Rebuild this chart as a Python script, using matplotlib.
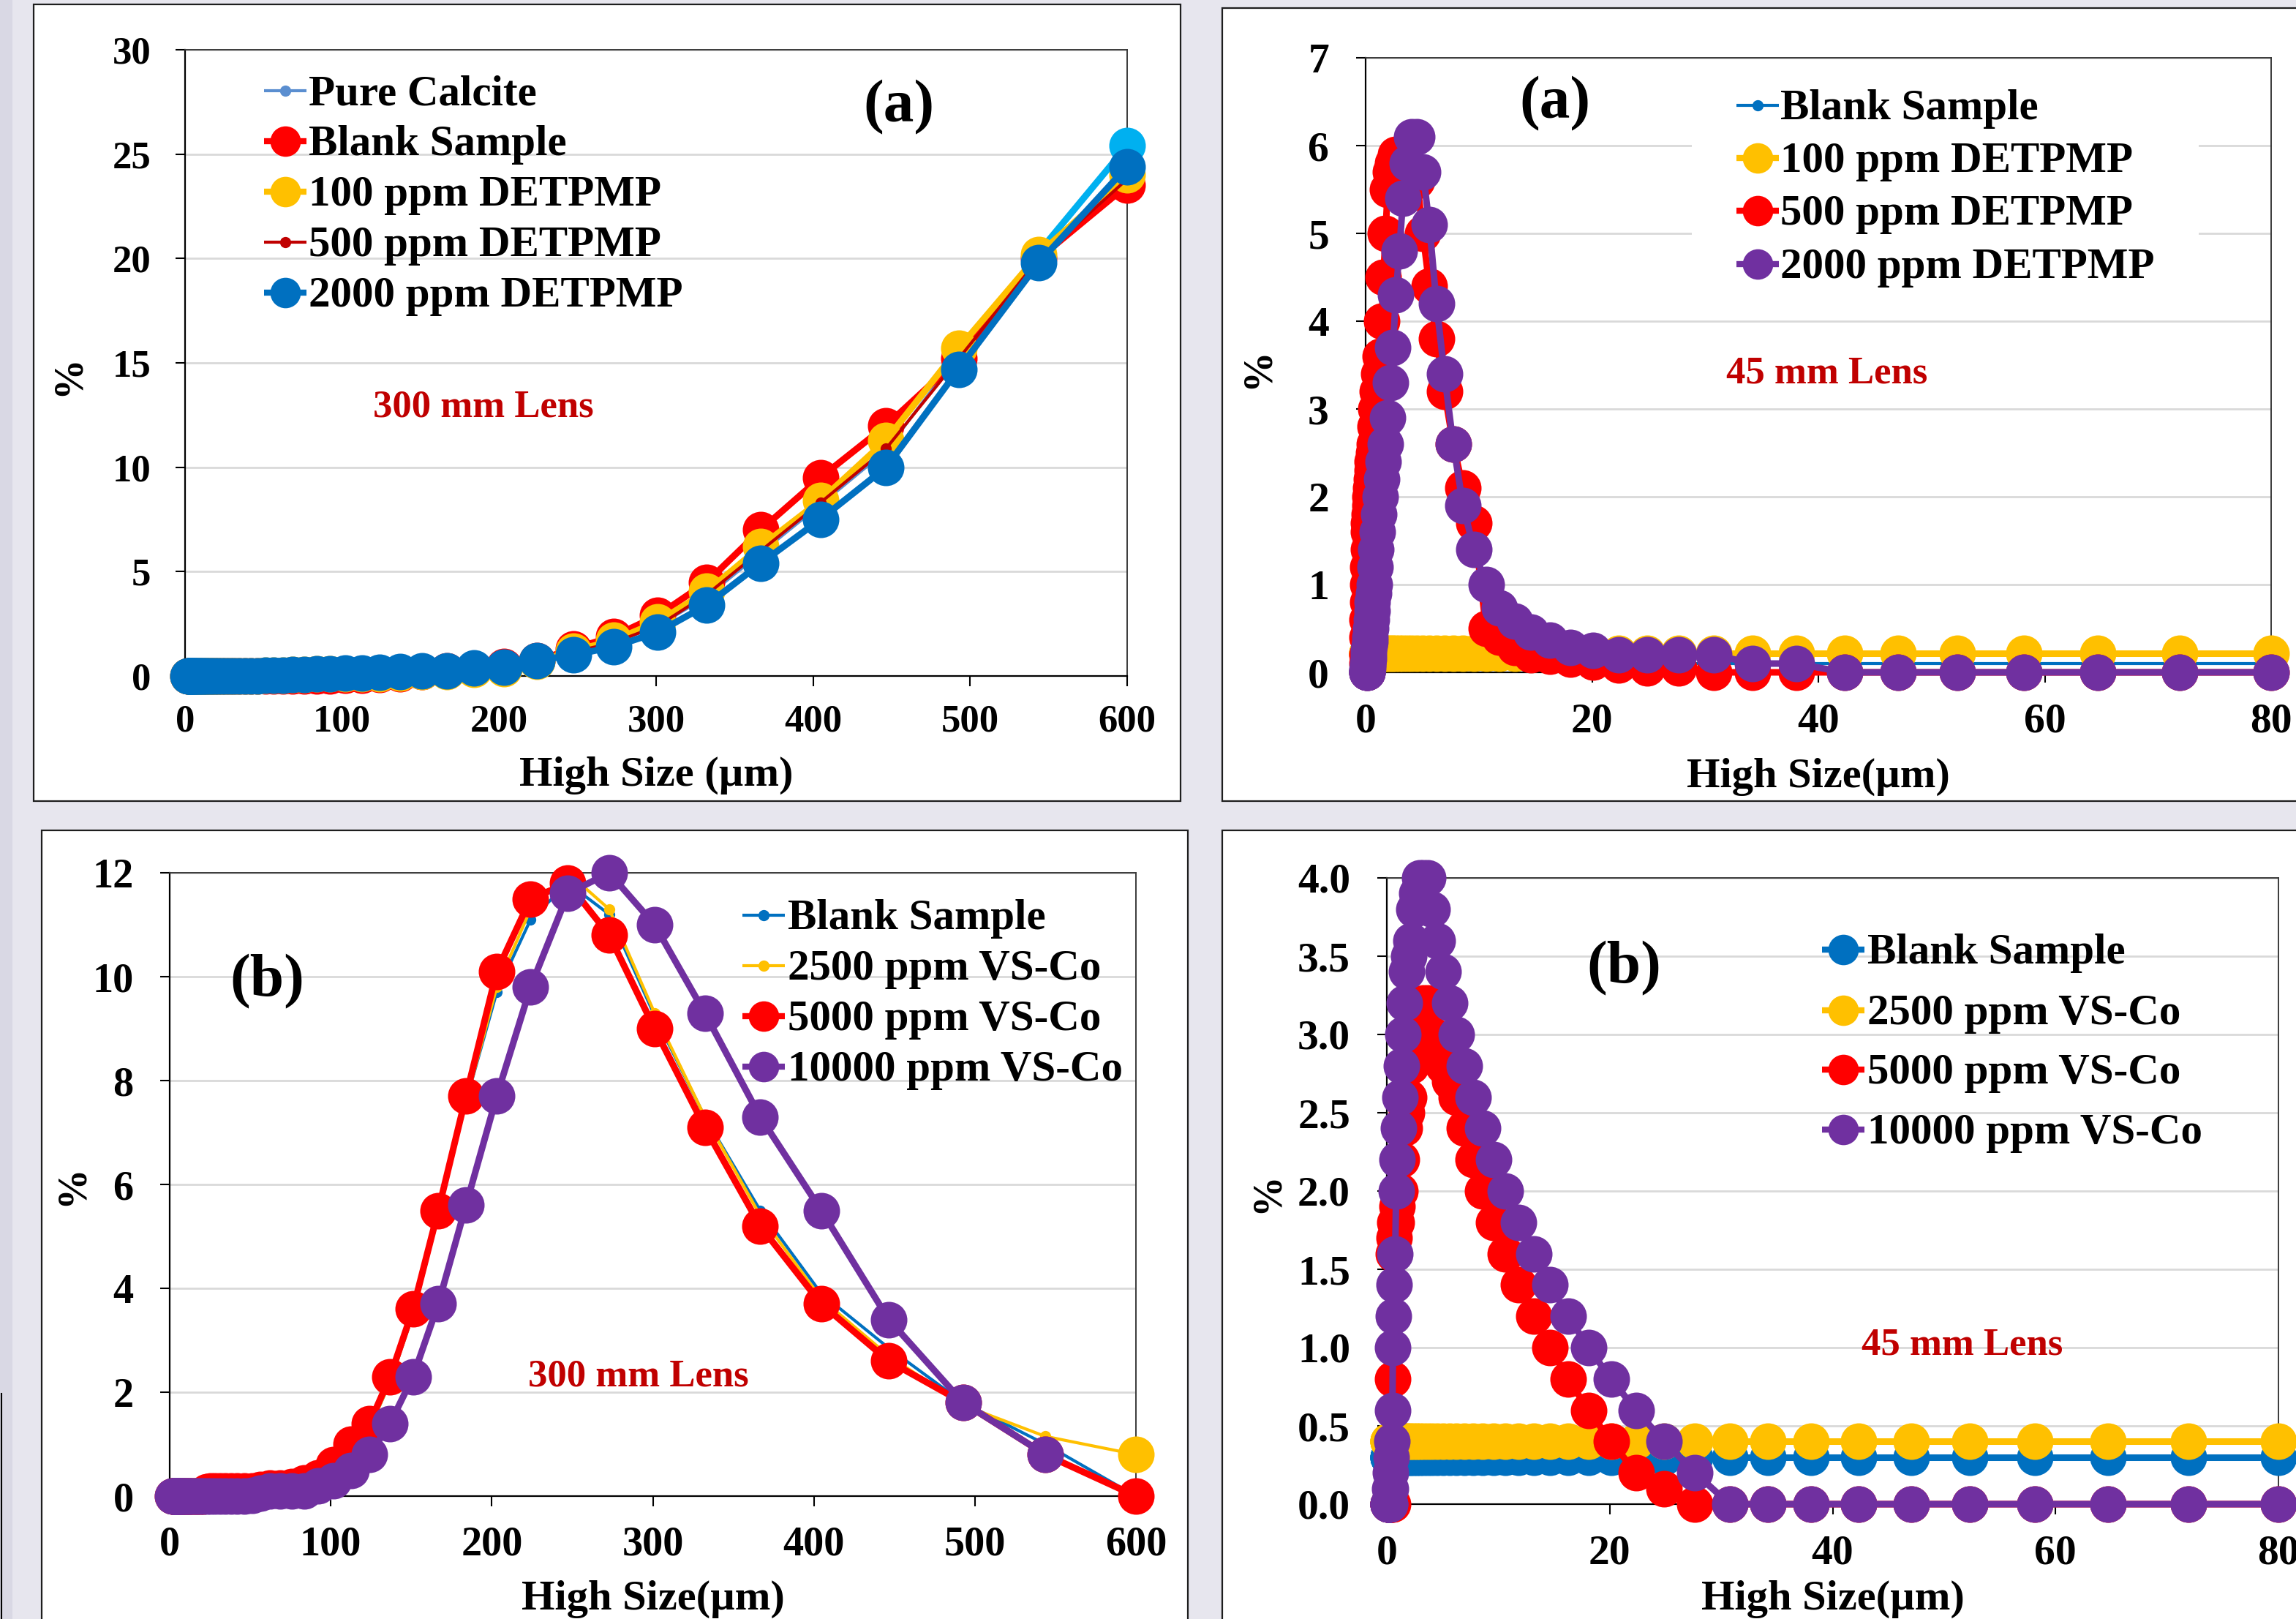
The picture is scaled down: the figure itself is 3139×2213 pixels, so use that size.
import numpy as np
import matplotlib.pyplot as plt
from matplotlib.lines import Line2D
from matplotlib.patches import Rectangle
from matplotlib.ticker import FormatStrFormatter

plt.rcParams['font.family'] = ['Liberation Serif', 'DejaVu Serif']
plt.rcParams['font.weight'] = 'bold'

W, H = 3139, 2213

# ---- Size classes (um) for the two lenses
x_300 = [2.0, 2.2, 2.4, 2.6, 2.9, 3.2, 3.5, 3.9, 4.3, 4.8,
         5.3, 5.9, 6.4, 7.1, 7.9, 8.7, 9.6, 10.6, 11.7, 12.9,
         14.2, 15.7, 17.3, 19.1, 21.1, 23.2, 25.6, 28.3, 31.2, 34.5,
         38.0, 42.0, 46.3, 51.1, 56.4, 62.3, 68.7, 75.8, 83.7, 92.3,
         101.9, 112.5, 124.1, 136.9, 151.1, 166.8, 184.0, 203.1, 224.1, 247.3,
         272.9, 301.1, 332.3, 366.7, 404.6, 446.5, 492.7, 543.7, 600.0]

x_45 = [0.10, 0.11, 0.12, 0.14, 0.15, 0.17, 0.19, 0.21, 0.24, 0.26,
        0.29, 0.33, 0.36, 0.40, 0.45, 0.50, 0.55, 0.61, 0.68, 0.75,
        0.84, 0.93, 1.03, 1.15, 1.28, 1.42, 1.58, 1.76, 1.95, 2.17,
        2.41, 2.68, 2.98, 3.31, 3.68, 4.09, 4.55, 5.06, 5.63, 6.26,
        6.96, 7.74, 8.61, 9.57, 10.64, 11.83, 13.16, 14.63, 16.27, 18.09,
        20.12, 22.37, 24.88, 27.66, 30.76, 34.21, 38.04, 42.30, 47.04, 52.31,
        58.17, 64.69, 71.93, 80.00]

# ---- (a) 300 mm lens, DETPMP
pure_calcite = [0, 0, 0, 0, 0, 0, 0, 0, 0, 0,
                0, 0, 0, 0, 0, 0, 0, 0, 0, 0,
                0, 0, 0, 0, 0, 0, 0, 0, 0, 0,
                0, 0, 0, 0.02, 0.03, 0.05, 0.06, 0.08, 0.1, 0.12,
                0.15, 0.18, 0.2, 0.22, 0.25, 0.3, 0.35, 0.45, 0.7, 1.1,
                1.6, 2.4, 3.8, 5.9, 8.2, 10.8, 15.4, 20.3, 25.4]
blank_a300 = [0, 0, 0, 0, 0, 0, 0, 0, 0, 0,
              0, 0, 0, 0, 0, 0, 0, 0, 0, 0,
              0, 0, 0, 0, 0, 0, 0, 0, 0, 0,
              0, 0, 0, 0, 0, 0, 0, 0, 0, 0,
              0.02, 0.05, 0.08, 0.1, 0.2, 0.25, 0.35, 0.45, 0.75, 1.3,
              1.9, 2.9, 4.5, 7.0, 9.5, 12.0, 15.2, 20.0, 23.5]
detpmp100_a300 = [0, 0, 0, 0, 0, 0, 0, 0, 0, 0,
                  0, 0, 0, 0, 0, 0, 0, 0, 0, 0,
                  0, 0, 0, 0, 0, 0, 0, 0, 0, 0,
                  0, 0, 0, 0.02, 0.04, 0.05, 0.06, 0.08, 0.1, 0.1,
                  0.1, 0.12, 0.1, 0.15, 0.2, 0.2, 0.3, 0.35, 0.7, 1.2,
                  1.7, 2.6, 4.05, 6.2, 8.4, 11.3, 15.7, 20.2, 24.0]
detpmp500_a300 = [0, 0, 0, 0, 0, 0, 0, 0, 0, 0,
                  0, 0, 0, 0, 0, 0, 0, 0, 0, 0,
                  0, 0, 0, 0, 0, 0, 0, 0, 0, 0,
                  0, 0, 0, 0.02, 0.03, 0.04, 0.05, 0.06, 0.08, 0.1,
                  0.12, 0.15, 0.18, 0.2, 0.25, 0.3, 0.35, 0.45, 0.7, 1.15,
                  1.6, 2.4, 3.9, 6.0, 8.3, 10.9, 15.2, 20.0, 23.8]
detpmp2000_a300 = [0, 0, 0, 0, 0, 0, 0, 0, 0, 0,
                   0, 0, 0, 0, 0, 0, 0, 0, 0, 0,
                   0, 0, 0, 0, 0, 0, 0, 0, 0, 0,
                   0, 0, 0, 0.02, 0.04, 0.05, 0.06, 0.08, 0.1, 0.12,
                   0.14, 0.15, 0.17, 0.2, 0.24, 0.26, 0.37, 0.43, 0.74, 1.0,
                   1.4, 2.1, 3.4, 5.4, 7.5, 10.0, 14.7, 19.8, 24.4]

# ---- (a) 45 mm lens, DETPMP
blank_a45 = [0.1, 0.1, 0.1, 0.1, 0.1, 0.1, 0.1, 0.1, 0.1, 0.1,
             0.1, 0.1, 0.1, 0.1, 0.1, 0.1, 0.1, 0.1, 0.1, 0.1,
             0.1, 0.1, 0.1, 0.1, 0.1, 0.1, 0.1, 0.1, 0.1, 0.1,
             0.1, 0.1, 0.1, 0.1, 0.1, 0.1, 0.1, 0.1, 0.1, 0.1,
             0.1, 0.1, 0.1, 0.1, 0.1, 0.1, 0.1, 0.1, 0.1, 0.1,
             0.1, 0.1, 0.1, 0.1, 0.1, 0.1, 0.1, 0.1, 0.1, 0.1,
             0.1, 0.1, 0.1, 0.1]
detpmp100_a45 = [0.22, 0.22, 0.22, 0.22, 0.22, 0.22, 0.22, 0.22, 0.22, 0.22,
                 0.22, 0.22, 0.22, 0.22, 0.22, 0.22, 0.22, 0.22, 0.22, 0.22,
                 0.22, 0.22, 0.22, 0.22, 0.22, 0.22, 0.22, 0.22, 0.22, 0.22,
                 0.22, 0.22, 0.22, 0.22, 0.22, 0.22, 0.22, 0.22, 0.22, 0.22,
                 0.22, 0.22, 0.22, 0.22, 0.22, 0.22, 0.22, 0.22, 0.22, 0.22,
                 0.22, 0.22, 0.22, 0.22, 0.22, 0.22, 0.22, 0.22, 0.22, 0.22,
                 0.22, 0.22, 0.22, 0.22]
detpmp500_a45 = [0, 0.1, 0.2, 0.4, 0.6, 0.8, 1.0, 1.2, 1.4, 1.6,
                 1.7, 1.8, 1.9, 2.0, 2.1, 2.2, 2.3, 2.4, 2.5, 2.6,
                 2.8, 3.0, 3.2, 3.4, 3.6, 4.0, 4.5, 5.0, 5.5, 5.7,
                 5.8, 5.9, 5.9, 5.9, 5.8, 5.7, 5.6, 5.0, 4.4, 3.8,
                 3.2, 2.6, 2.1, 1.7, 0.5, 0.4, 0.28, 0.2, 0.18, 0.15,
                 0.12, 0.08, 0.05, 0.05, 0, 0, 0, 0, 0, 0,
                 0, 0, 0, 0]
detpmp2000_a45 = [0, 0, 0, 0.02, 0.03, 0.05, 0.08, 0.1, 0.15, 0.2,
                  0.25, 0.3, 0.35, 0.4, 0.5, 0.6, 0.7, 0.8, 0.9, 1.0,
                  1.2, 1.4, 1.6, 1.8, 2.0, 2.2, 2.4, 2.6, 2.9, 3.3,
                  3.7, 4.3, 4.8, 5.4, 5.8, 6.1, 6.1, 5.7, 5.1, 4.2,
                  3.4, 2.6, 1.9, 1.4, 1.0, 0.73, 0.58, 0.46, 0.37, 0.28,
                  0.25, 0.2, 0.2, 0.2, 0.2, 0.1, 0.1, 0, 0, 0,
                  0, 0, 0, 0]

# ---- (b) 300 mm lens, VS-Co
blank_b300 = [0, 0, 0, 0, 0, 0, 0, 0, 0, 0,
              0, 0, 0, 0, 0, 0, 0, 0, 0, 0,
              0, 0, 0, 0, 0, 0, 0, 0, 0, 0,
              0, 0, 0, 0.02, 0.05, 0.08, 0.1, 0.12, 0.15, 0.2,
              0.45, 0.8, 1.3, 2.2, 3.5, 5.4, 7.6, 9.7, 11.1, 11.8,
              11.2, 9.25, 7.3, 5.5, 3.9, 2.85, 1.8, 1.0, 0.0]
vsco2500_b300 = [0, 0, 0, 0, 0, 0, 0, 0, 0, 0,
                 0, 0, 0, 0, 0, 0, 0, 0, 0, 0,
                 0, 0, 0, 0, 0, 0, 0, 0, 0, 0,
                 0, 0, 0, 0.02, 0.05, 0.08, 0.1, 0.12, 0.15, 0.25,
                 0.5, 0.8, 1.3, 2.2, 3.5, 5.4, 7.6, 9.8, 11.3, 12.0,
                 11.3, 9.3, 7.3, 5.4, 3.8, 2.7, 1.75, 1.15, 0.8]
vsco5000_b300 = [0, 0, 0, 0, 0, 0, 0, 0, 0, 0,
                 0, 0, 0, 0, 0, 0, 0, 0, 0, 0,
                 0, 0, 0, 0, 0, 0.08, 0.1, 0.1, 0.1, 0.1,
                 0.1, 0.1, 0.1, 0.1, 0.12, 0.15, 0.15, 0.18, 0.25, 0.35,
                 0.6, 1.0, 1.4, 2.3, 3.6, 5.5, 7.7, 10.1, 11.5, 11.8,
                 10.8, 9.0, 7.1, 5.2, 3.7, 2.6, 1.8, 0.8, 0.0]
vsco10000_b300 = [0, 0, 0, 0, 0, 0, 0, 0, 0, 0,
                  0, 0, 0, 0, 0, 0, 0, 0, 0, 0,
                  0, 0, 0, 0, 0, 0, 0, 0, 0, 0,
                  0, 0, 0, 0.02, 0.05, 0.1, 0.1, 0.1, 0.1, 0.2,
                  0.3, 0.5, 0.8, 1.4, 2.3, 3.7, 5.6, 7.7, 9.8, 11.6,
                  12.0, 11.0, 9.3, 7.3, 5.5, 3.4, 1.8, 0.8, np.nan]

# ---- (b) 45 mm lens, VS-Co
blank_b45 = [0.3, 0.3, 0.3, 0.3, 0.3, 0.3, 0.3, 0.3, 0.3, 0.3,
             0.3, 0.3, 0.3, 0.3, 0.3, 0.3, 0.3, 0.3, 0.3, 0.3,
             0.3, 0.3, 0.3, 0.3, 0.3, 0.3, 0.3, 0.3, 0.3, 0.3,
             0.3, 0.3, 0.3, 0.3, 0.3, 0.3, 0.3, 0.3, 0.3, 0.3,
             0.3, 0.3, 0.3, 0.3, 0.3, 0.3, 0.3, 0.3, 0.3, 0.3,
             0.3, 0.3, 0.3, 0.3, 0.3, 0.3, 0.3, 0.3, 0.3, 0.3,
             0.3, 0.3, 0.3, 0.3]
vsco2500_b45 = [0.4, 0.4, 0.4, 0.4, 0.4, 0.4, 0.4, 0.4, 0.4, 0.4,
                0.4, 0.4, 0.4, 0.4, 0.4, 0.4, 0.4, 0.4, 0.4, 0.4,
                0.4, 0.4, 0.4, 0.4, 0.4, 0.4, 0.4, 0.4, 0.4, 0.4,
                0.4, 0.4, 0.4, 0.4, 0.4, 0.4, 0.4, 0.4, 0.4, 0.4,
                0.4, 0.4, 0.4, 0.4, 0.4, 0.4, 0.4, 0.4, 0.4, 0.4,
                0.4, 0.4, 0.4, 0.4, 0.4, 0.4, 0.4, 0.4, 0.4, 0.4,
                0.4, 0.4, 0.4, 0.4]
vsco5000_b45 = [0, 0, 0, 0, 0, 0, 0, 0, 0, 0,
                0, 0, 0, 0, 0, 0, 0.8, 1.6, 1.7, 1.8,
                1.8, 1.9, 2.0, 2.0, 2.2, 2.4, 2.4, 2.5, 2.6, 2.8,
                2.9, 3.0, 3.1, 3.2, 3.2, 3.0, 2.9, 2.8, 2.7, 2.6,
                2.4, 2.2, 2.0, 1.8, 1.6, 1.4, 1.2, 1.0, 0.8, 0.6,
                0.4, 0.2, 0.1, 0, 0, 0, 0, 0, 0, 0,
                0, 0, 0, 0]
vsco10000_b45 = [0, 0, 0, 0, 0, 0, 0, 0, 0, 0,
                 0.1, 0.1, 0.2, 0.3, 0.4, 0.6, 1.0, 1.2, 1.4, 1.6,
                 2.0, 2.2, 2.4, 2.6, 2.8, 3.0, 3.2, 3.4, 3.5, 3.6,
                 3.8, 3.9, 4.0, 4.0, 4.0, 3.8, 3.6, 3.4, 3.2, 3.0,
                 2.8, 2.6, 2.4, 2.2, 2.0, 1.8, 1.6, 1.4, 1.2, 1.0,
                 0.8, 0.6, 0.4, 0.2, 0, 0, 0, 0, 0, 0,
                 0, 0, 0, 0]

BLUE, GOLD, RED, DRED, PURPLE = '#0070C0', '#FFC000', '#FF0000', '#C00000', '#7030A0'
CALCITE, CYAN = '#5A8ED0', '#00B0F0'

fig = plt.figure(figsize=(W / 100, H / 100), dpi=100)
fig.patch.set_facecolor('#E7E6EE')


def fx(x):
    return x / W


def fy(y):
    return 1 - y / H


def frame(l, t, r, b):
    fig.add_artist(Rectangle((fx(l), fy(b)), (r - l) / W, (b - t) / H, transform=fig.transFigure,
                             facecolor='white', edgecolor='#1e1e1e', lw=1.6, zorder=-1))


# ---- background strip and chart frames
fig.add_artist(Rectangle((0, 0), 17 / W, 1, transform=fig.transFigure, facecolor='#D9D8E4',
                         edgecolor='none', zorder=-2))
fig.add_artist(Line2D([fx(1.5), fx(1.5)], [fy(1905), fy(2213)], transform=fig.transFigure,
                      color='black', lw=1.5, zorder=-1))
frame(46, 6, 1614, 1095)
frame(1671, 11, 3160, 1095)
frame(57, 1135, 1624, 2240)
frame(1671, 1135, 3160, 2240)


def make_axes(l, t, r, b, xlim, ylim, xticks, yticks, fmt, fs, ypad, xpad):
    ax = fig.add_axes([fx(l), fy(b), (r - l) / W, (b - t) / H])
    ax.set_xlim(*xlim)
    ax.set_ylim(*ylim)
    ax.set_xticks(xticks)
    ax.set_yticks(yticks)
    ax.yaxis.set_major_formatter(FormatStrFormatter(fmt))
    ax.tick_params(axis='y', direction='out', length=9.5, width=1.5, labelsize=fs, pad=ypad)
    ax.tick_params(axis='x', direction='out', length=10, width=1.5, labelsize=fs, pad=xpad)
    ax.grid(axis='y', color='#D9D9D9', lw=2)
    ax.set_axisbelow(True)
    for s in ('left', 'bottom'):
        ax.spines[s].set_color('black')
        ax.spines[s].set_linewidth(1.6)
    for s in ('top', 'right'):
        ax.spines[s].set_color('#3a3a3a')
        ax.spines[s].set_linewidth(1.4)
    return ax


def series(ax, x, y, color, big=True):
    if big:
        ax.plot(x, y, color=color, lw=6.5, marker='o', ms=36, mew=0, clip_on=False, zorder=3)
    else:
        ax.plot(x, y, color=color, lw=3, marker='o', ms=11, mew=0, clip_on=False, zorder=3)


def last_point(ax, x, y, color, thick_segment=False):
    # Excel-style highlighted final point
    if thick_segment:
        ax.plot(x[-2:], y[-2:], color=color, lw=6.5, clip_on=False, zorder=3)
    ax.plot(x[-1:], y[-1:], color=color, marker='o', ms=36, mew=0, lw=0, clip_on=False, zorder=3)


def key(hx, tx, rows, labels, colors, bigs, fs=42.5):
    for y, lab, c, big in zip(rows, labels, colors, bigs):
        fig.add_artist(Line2D([fx(hx - 29), fx(hx + 29)], [fy(y), fy(y)], transform=fig.transFigure,
                              color=c, lw=6 if big else 3, solid_capstyle='butt'))
        fig.add_artist(Line2D([fx(hx)], [fy(y)], transform=fig.transFigure, marker='o',
                              ms=30 if big else 11, color=c, mew=0, lw=0))
        fig.text(fx(tx), fy(y + 19), lab, fontsize=fs, ha='left', va='baseline')


def labels(ax, xl, xly, pct_x, pct_y, tag, tag_xy, lens, lens_xy):
    ax.text(0.5, xly, xl, transform=ax.transAxes, ha='center', va='center', fontsize=42)
    ax.text(pct_x, pct_y, '%', transform=ax.transAxes, ha='center', va='center', fontsize=40, rotation=90)
    ax.text(*tag_xy, tag, transform=ax.transAxes, ha='center', va='center', fontsize=60)
    ax.text(*lens_xy, lens, transform=ax.transAxes, ha='center', va='center', fontsize=38, color=DRED)


# ---- top left: (a) 300 mm lens
ax1 = make_axes(253, 68, 1541, 924, (0, 600), (0, 30), range(0, 601, 100), range(0, 31, 5), '%d', 38, 24, 18)
series(ax1, x_300, pure_calcite, CALCITE, big=False)
last_point(ax1, x_300, pure_calcite, CYAN, thick_segment=True)
series(ax1, x_300, blank_a300, RED)
series(ax1, x_300, detpmp100_a300, GOLD)
series(ax1, x_300, detpmp500_a300, DRED, big=False)
series(ax1, x_300, detpmp2000_a300, BLUE)
labels(ax1, 'High Size (µm)', -0.159, -0.124, 0.48, '(a)', (0.758, 0.908), '300 mm Lens', (0.317, 0.429))
key(390, 422, [124, 193, 262, 331, 400],
    ['Pure Calcite', 'Blank Sample', '100 ppm DETPMP', '500 ppm DETPMP', '2000 ppm DETPMP'],
    [CALCITE, RED, GOLD, DRED, BLUE], [False, True, True, False, True])

# ---- top right: (a) 45 mm lens
ax2 = make_axes(1867, 79, 3105, 919, (0, 80), (0, 7), range(0, 81, 20), range(0, 8), '%d', 41.5, 26.5, 20)
ax2.add_patch(Rectangle((0.36, 0.63), 0.56, 0.345, transform=ax2.transAxes, facecolor='white',
                        edgecolor='none', zorder=1))
series(ax2, x_45, blank_a45, BLUE, big=False)
series(ax2, x_45, detpmp100_a45, GOLD)
series(ax2, x_45, detpmp500_a45, RED)
series(ax2, x_45, detpmp2000_a45, PURPLE)
labels(ax2, 'High Size(µm)', -0.170, -0.119, 0.495, '(a)', (0.209, 0.925), '45 mm Lens', (0.509, 0.486))
key(2403, 2434, [144, 216, 288, 361],
    ['Blank Sample', '100 ppm DETPMP', '500 ppm DETPMP', '2000 ppm DETPMP'],
    [BLUE, GOLD, RED, PURPLE], [False, True, True, True])

# ---- bottom left: (b) 300 mm lens
ax3 = make_axes(232, 1193, 1553, 2045, (0, 600), (0, 12), range(0, 601, 100), range(0, 13, 2), '%d', 40.5, 26, 19)
series(ax3, x_300, blank_b300, BLUE, big=False)
series(ax3, x_300, vsco2500_b300, GOLD, big=False)
last_point(ax3, x_300, vsco2500_b300, GOLD)
series(ax3, x_300, vsco5000_b300, RED)
series(ax3, x_300, vsco10000_b300, PURPLE)
labels(ax3, 'High Size(µm)', -0.165, -0.1007, 0.499, '(b)', (0.101, 0.825), '300 mm Lens', (0.485, 0.192))
key(1044, 1077, [1251, 1320, 1389, 1458],
    ['Blank Sample', '2500 ppm VS-Co', '5000 ppm VS-Co', '10000 ppm VS-Co'],
    [BLUE, GOLD, RED, PURPLE], [False, False, True, True])

# ---- bottom right: (b) 45 mm lens
ax4 = make_axes(1896, 1200, 3115, 2056, (0, 80), (0, 4), range(0, 81, 20), np.arange(0, 4.01, 0.5), '%.1f', 41.5, 26.5, 20)
series(ax4, x_45, blank_b45, BLUE)
series(ax4, x_45, vsco2500_b45, GOLD)
series(ax4, x_45, vsco5000_b45, RED)
series(ax4, x_45, vsco10000_b45, PURPLE)
labels(ax4, 'High Size(µm)', -0.152, -0.134, 0.498, '(b)', (0.266, 0.855), '45 mm Lens', (0.645, 0.254))
key(2520, 2553, [1298, 1381, 1462, 1544],
    ['Blank Sample', '2500 ppm VS-Co', '5000 ppm VS-Co', '10000 ppm VS-Co'],
    [BLUE, GOLD, RED, PURPLE], [True, True, True, True])

fig.savefig('out.png', dpi=100, facecolor=fig.get_facecolor())
